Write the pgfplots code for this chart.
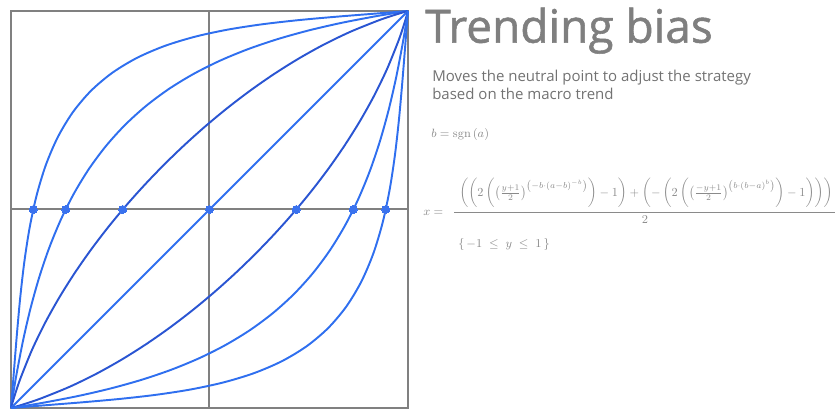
\documentclass[border=0pt]{standalone}
\usepackage{amsmath}
\usepackage{pgfplots}
\pgfplotsset{compat=1.18}
\usepackage[no-math]{fontspec}
\setmainfont{Open Sans}
\newfontfamily\titlefont[FakeBold=1.2]{Open Sans}
\usepackage{graphicx}
\definecolor{lblue}{HTML}{2F6FEF}
\definecolor{dblue}{HTML}{2A55D2}
\definecolor{dotblue}{HTML}{3A72EE}
\definecolor{framegray}{HTML}{808080}
\definecolor{titlegray}{HTML}{7F7F7F}
\definecolor{descgray}{HTML}{727272}
\definecolor{fmlgray}{HTML}{8A8A8A}
\begin{document}
\begin{tikzpicture}[x=0.75pt,y=0.75pt]
\path[use as bounding box] (0,0) rectangle (840,420);
\begin{axis}[at={(8.25pt,9pt)}, anchor=south west, scale only axis,
  width=297.75pt, height=297.75pt,
  xmin=-1, xmax=1, ymin=-1, ymax=1,
  xtick={0}, ytick={0}, xticklabels={}, yticklabels={},
  major tick length=0pt, grid=major,
  grid style={framegray, line width=1.5pt},
  axis line style={framegray, line width=1.5pt},
  clip=false,
  every axis plot/.append style={line width=1.45pt, smooth}]
% outer left curve
\addplot[lblue, no markers] coordinates {(-1,-1) (-0.99698,-0.96302) (-0.99252,-0.90748) (-0.98522,-0.81478) (-0.97039,-0.62961) (-0.95375,-0.44625) (-0.93321,-0.26679) (-0.90646,-0.09354) (-0.87100,0.07100) (-0.82438,0.22438) (-0.76434,0.36434) (-0.68911,0.48911) (-0.5975,0.5975) (-0.48911,0.68911) (-0.36434,0.76434) (-0.22438,0.82438) (-0.07100,0.87100) (0.09354,0.90646) (0.26679,0.93321) (0.44625,0.95375) (0.62961,0.97039) (0.81478,0.98522) (0.90748,0.99252) (0.96302,0.99698) (1,1)};
% middle left curve
\addplot[lblue, no markers] coordinates {(-1,-1) (-0.99466,-0.96534) (-0.98638,-0.91362) (-0.97181,-0.82819) (-0.93934,-0.66066) (-0.90169,-0.49831) (-0.85796,-0.34204) (-0.80729,-0.19271) (-0.74888,-0.05112) (-0.68202,0.08202) (-0.60614,0.20614) (-0.52079,0.32079) (-0.4257,0.4257) (-0.32079,0.52079) (-0.20614,0.60614) (-0.08202,0.68202) (0.05112,0.74888) (0.19271,0.80729) (0.34204,0.85796) (0.49831,0.90169) (0.66066,0.93934) (0.82819,0.97181) (0.91362,0.98638) (0.96534,0.99466) (1,1)};
% inner left curve
\addplot[dblue, no markers] coordinates {(-1,-1) (-0.99113,-0.96887) (-0.97701,-0.92299) (-0.95149,-0.84851) (-0.89377,-0.70623) (-0.82845,-0.57155) (-0.75670,-0.44330) (-0.67940,-0.32060) (-0.59721,-0.20279) (-0.51062,-0.08938) (-0.41996,0.01996) (-0.32547,0.12547) (-0.2273,0.2273) (-0.12547,0.32547) (-0.01996,0.41996) (0.08938,0.51062) (0.20279,0.59721) (0.32060,0.67940) (0.44330,0.75670) (0.57155,0.82845) (0.70623,0.89377) (0.84851,0.95149) (0.92299,0.97701) (0.96887,0.99113) (1,1)};
% diagonal
\addplot[lblue, no markers] coordinates {(-1,-1) (1,1)};
% inner right curve
\addplot[dblue, no markers] coordinates {(1,1) (0.99113,0.96887) (0.97701,0.92299) (0.95149,0.84851) (0.89377,0.70623) (0.82845,0.57155) (0.75670,0.44330) (0.67940,0.32060) (0.59721,0.20279) (0.51062,0.08938) (0.41996,-0.01996) (0.32547,-0.12547) (0.2273,-0.2273) (0.12547,-0.32547) (0.01996,-0.41996) (-0.08938,-0.51062) (-0.20279,-0.59721) (-0.32060,-0.67940) (-0.44330,-0.75670) (-0.57155,-0.82845) (-0.70623,-0.89377) (-0.84851,-0.95149) (-0.92299,-0.97701) (-0.96887,-0.99113) (-1,-1)};
% middle right curve
\addplot[lblue, no markers] coordinates {(1,1) (0.99466,0.96534) (0.98638,0.91362) (0.97181,0.82819) (0.93934,0.66066) (0.90169,0.49831) (0.85796,0.34204) (0.80729,0.19271) (0.74888,0.05112) (0.68202,-0.08202) (0.60614,-0.20614) (0.52079,-0.32079) (0.4257,-0.4257) (0.32079,-0.52079) (0.20614,-0.60614) (0.08202,-0.68202) (-0.05112,-0.74888) (-0.19271,-0.80729) (-0.34204,-0.85796) (-0.49831,-0.90169) (-0.66066,-0.93934) (-0.82819,-0.97181) (-0.91362,-0.98638) (-0.96534,-0.99466) (-1,-1)};
% outer right curve
\addplot[lblue, no markers] coordinates {(1,1) (0.99698,0.96302) (0.99252,0.90748) (0.98522,0.81478) (0.97039,0.62961) (0.95375,0.44625) (0.93321,0.26679) (0.90646,0.09354) (0.87100,-0.07100) (0.82438,-0.22438) (0.76434,-0.36434) (0.68911,-0.48911) (0.5975,-0.5975) (0.48911,-0.68911) (0.36434,-0.76434) (0.22438,-0.82438) (0.07100,-0.87100) (-0.09354,-0.90646) (-0.26679,-0.93321) (-0.44625,-0.95375) (-0.62961,-0.97039) (-0.81478,-0.98522) (-0.90748,-0.99252) (-0.96302,-0.99698) (-1,-1)};
% neutral points
\addplot[dotblue, only marks, mark=*, mark size=3pt, mark options={draw=dotblue, fill=dotblue, line width=0pt}] coordinates {(-0.888,0) (-0.724,0) (-0.437,0) (0,0) (0.437,0) (0.724,0) (0.888,0)};
\end{axis}
% title and description
\node[anchor=base west, inner sep=0, text=titlegray, font=\titlefont\fontsize{34.5}{40}\selectfont] at (425,377.3) {Trending bias};
\node[anchor=base west, inner sep=0, text=descgray, font=\fontsize{11.25}{13}\selectfont] at (432,338.3) {Moves the neutral point to adjust the strategy};
\node[anchor=base west, inner sep=0, text=descgray, font=\fontsize{11.25}{13}\selectfont] at (432,320) {based on the macro trend};
% formula
\node[anchor=base west, inner sep=0, text=fmlgray, font=\fontsize{9.5}{11}\selectfont] at (431,282) {$b=\mathrm{sgn}\left(a\right)$};
\node[anchor=west, inner sep=0, text=fmlgray, font=\fontsize{9.5}{11}\selectfont] at (423,207.3) {$x=$};
\draw[fmlgray, line width=0.6pt] (454,207.3) -- (835,207.3);
\node[anchor=south, inner sep=0, text=fmlgray] at (646,212) {\resizebox{280pt}{!}{$\left(\left(2\left(\left(\tfrac{y+1}{2}\right)^{\left(-b\cdot\left(a-b\right)^{-b}\right)}\right)-1\right)+\left(-\left(2\left(\left(\tfrac{-y+1}{2}\right)^{\left(b\cdot\left(b-a\right)^{b}\right)}\right)-1\right)\right)\right)$}};
\node[anchor=center, inner sep=0, text=fmlgray, font=\fontsize{9.5}{11}\selectfont] at (645,200) {$2$};
\node[anchor=base west, inner sep=0, text=fmlgray, font=\fontsize{9.5}{11}\selectfont] at (458,172) {$\left\{\,-1\;\le\; y\;\le\; 1\,\right\}$};
\end{tikzpicture}
\end{document}
